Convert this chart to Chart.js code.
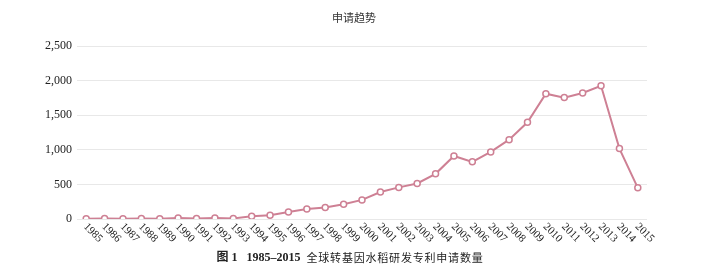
<!DOCTYPE html>
<html>
<head>
<meta charset="utf-8">
<script src="https://cdn.jsdelivr.net/npm/chart.js@4"></script>
<style>
    html, body { margin: 0; padding: 0; background: #fff; }
    #wrap { width: 708px; height: 279px; }
</style>
</head>
<body>
<div id="wrap"><canvas id="trendChart" width="708" height="279"></canvas></div>
<script>
const years = [
    "1985", "1986", "1987", "1988", "1989", "1990", "1991", "1992", "1993", "1994",
    "1995", "1996", "1997", "1998", "1999", "2000", "2001", "2002", "2003", "2004",
    "2005", "2006", "2007", "2008", "2009", "2010", "2011", "2012", "2013", "2014", "2015",
];
const applications = [
    5, 8, 5, 6, 4, 15, 6, 15, 8, 40,
    55, 100, 143, 167, 214, 276, 390, 457, 514, 653,
    911, 826, 969, 1146, 1397, 1811, 1754, 1821, 1926, 1017, 450,
];
const chartTitle = "申请趋势";
const captionHead = "图 1   1985–2015";
const captionText = "全球转基因水稻研发专利申请数量";

const lineColor = "rgb(206, 128, 148)";

// draws the rotated year labels, the top title and the caption
const textPlugin = {
    id: "texts",
    afterDraw(chart) {
        const ctx = chart.ctx;
        const xScale = chart.scales.x;
        ctx.save();
        ctx.fillStyle = "#222";
        ctx.font = "11px 'Liberation Serif', serif";
        ctx.textAlign = "left";
        ctx.textBaseline = "middle";
        years.forEach((label, i) => {
            const x = xScale.getPixelForTick(i);
            ctx.save();
            ctx.translate(x - 1, 225);
            ctx.rotate(Math.PI / 4);
            ctx.fillText(label, 0, 0);
            ctx.restore();
        });

        ctx.font = "11px 'Noto Sans CJK SC', sans-serif";
        ctx.textAlign = "center";
        ctx.fillStyle = "#333";
        ctx.fillText(chartTitle, 354, 18);

        ctx.textAlign = "left";
        ctx.fillStyle = "#222";
        ctx.font = "bold 12px 'Liberation Serif', 'Noto Sans CJK SC', serif";
        const headW = ctx.measureText(captionHead).width;
        ctx.font = "11px 'Noto Sans CJK SC', sans-serif";
        ctx.letterSpacing = "0.8px";
        const textW = ctx.measureText(captionText).width;
        const start = 350 - (headW + 6 + textW) / 2;
        ctx.letterSpacing = "0px";
        ctx.font = "bold 12px 'Liberation Serif', 'Noto Sans CJK SC', serif";
        ctx.fillText(captionHead, start, 258);
        ctx.font = "11px 'Noto Sans CJK SC', sans-serif";
        ctx.letterSpacing = "0.8px";
        ctx.fillText(captionText, start + headW + 6, 258);
        ctx.restore();
    },
};

new Chart(document.getElementById("trendChart"), {
    type: "line",
    data: {
        labels: years,
        datasets: [
            {
                label: chartTitle,
                data: applications,
                borderColor: lineColor,
                backgroundColor: "#fff",
                borderWidth: 2,
                pointRadius: 3,
                pointBorderWidth: 1.5,
                pointBackgroundColor: "#fff",
                pointBorderColor: lineColor,
                tension: 0,
            },
        ],
    },
    options: {
        responsive: false,
        animation: false,
        layout: { padding: { top: 46, right: 61, bottom: 0, left: 0 } },
        plugins: {
            legend: { display: false },
            title: { display: false },
            tooltip: { enabled: false },
        },
        scales: {
            x: {
                offset: true,
                grid: { display: false },
                border: { display: false },
                ticks: { display: false },
                afterFit(scale) {
                    scale.height = 60;
                },
            },
            y: {
                min: 0,
                max: 2500,
                ticks: {
                    stepSize: 500,
                    color: "#222",
                    padding: 5,
                    font: { family: "'Liberation Serif', serif", size: 12 },
                },
                grid: { color: "#e8e8e8", drawTicks: false },
                border: { display: false },
                afterFit(scale) {
                    scale.width = 77;
                },
            },
        },
    },
    plugins: [textPlugin],
});
</script>
</body>
</html>
